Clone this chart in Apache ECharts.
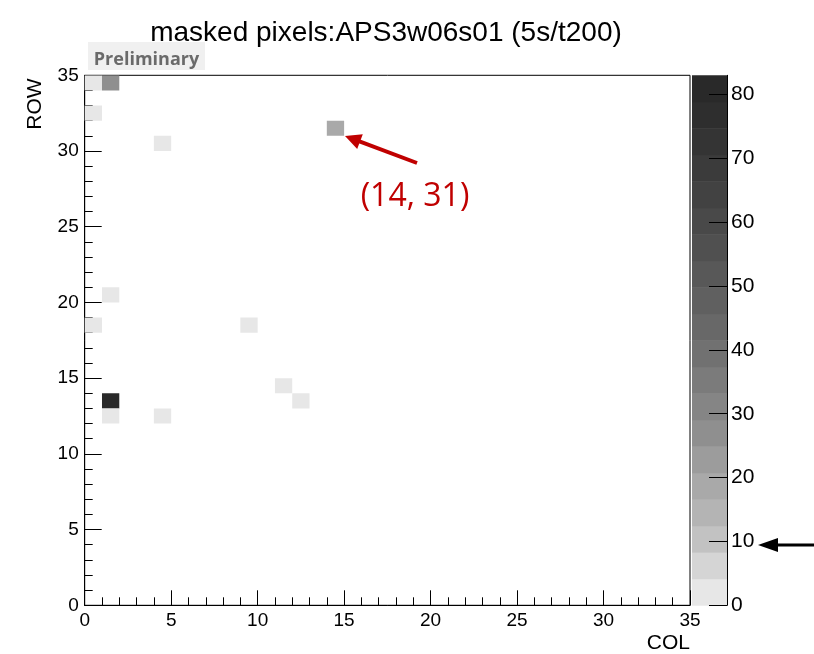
<!DOCTYPE html>
<html>
<head>
<meta charset="utf-8">
<script src="https://cdn.jsdelivr.net/npm/echarts@6/dist/echarts.min.js"></script>
<style>html,body{margin:0;padding:0;background:#fff}#c{width:814px;height:654px}</style>
</head>
<body>
<div id="c"></div>
<script>
// masked pixel cells: [COL, ROW, counts]
const cellCols   = [0, 1, 0, 4, 14, 1, 0, 9, 11, 12, 1, 1, 4];
const cellRows   = [34, 34, 32, 30, 31, 20, 18, 18, 14, 13, 13, 12, 12];
const cellCounts = [2, 27, 2, 2, 17, 2, 2, 2, 2, 2, 83, 2, 2];

const axisTicks = [0, 5, 10, 15, 20, 25, 30, 35];
const colorbarTicks = [0, 10, 20, 30, 40, 50, 60, 70, 80];
const colorbarMax = 83;
const levelColors = ['#e7e7e7','#d5d5d5','#c2c2c2','#b4b4b4','#a9a9a9','#9c9c9c','#8f8f8f','#858585',
  '#7b7b7b','#717171','#686868','#606060','#585858','#505050','#494949','#424242','#3b3b3b','#343434','#2e2e2e','#292929'];

const nLevels = levelColors.length;
const step = colorbarMax / nLevels;
function colorFor(v){ return levelColors[Math.max(0, Math.min(nLevels-1, Math.floor(v/step)))]; }

const cellData = cellCols.map((c,i)=>[c, cellRows[i], cellCounts[i]]);
const levelData = levelColors.map((c,i)=>[i]);

const chart = echarts.init(document.getElementById('c'), null, {renderer:'canvas'});
const FONT = 'Liberation Sans';

function arrow(x1,y1,x2,y2,color,w,hl,hw){
  const dx=x2-x1, dy=y2-y1, L=Math.hypot(dx,dy), ux=dx/L, uy=dy/L;
  const bx=x2-hl*ux, by=y2-hl*uy, nx=-uy, ny=ux;
  return [
    {type:'line', shape:{x1:x1,y1:y1,x2:bx+ux*2,y2:by+uy*2}, style:{stroke:color,lineWidth:w}, z:100},
    {type:'polygon', shape:{points:[[x2,y2],[bx+hw*nx,by+hw*ny],[bx-hw*nx,by-hw*ny]]}, style:{fill:color}, z:100}
  ];
}

const option = {
  animation:false,
  backgroundColor:'#fff',
  textStyle:{fontFamily:FONT},
  grid:[
    {left:84.7, right:124, top:75.3, bottom:48.7, show:true, borderColor:'#000', borderWidth:1, backgroundColor:'#fff', containLabel:false},
    {left:692, width:35, top:75.3, bottom:48.7, show:false, containLabel:false}
  ],
  xAxis:[
    {gridIndex:0, type:'value', min:0, max:35, interval:5,
      axisLine:{show:true, onZero:false, lineStyle:{color:'#000', width:1}},
      axisTick:{show:true, inside:true, length:15, lineStyle:{color:'#000'}},
      minorTick:{show:true, splitNumber:5, length:8, lineStyle:{color:'#000'}},
      axisLabel:{color:'#000', fontSize:19, fontFamily:FONT, margin:6},
      splitLine:{show:false}},
    {gridIndex:1, type:'value', min:0, max:1, show:false}
  ],
  yAxis:[
    {gridIndex:0, type:'value', min:0, max:35, interval:5,
      axisLine:{show:true, onZero:false, lineStyle:{color:'#000', width:1}},
      axisTick:{show:true, inside:true, length:17, lineStyle:{color:'#000'}},
      minorTick:{show:true, splitNumber:5, length:8, lineStyle:{color:'#000'}},
      axisLabel:{color:'#000', fontSize:19, fontFamily:FONT, margin:6},
      splitLine:{show:false}},
    {gridIndex:1, type:'value', min:0, max:colorbarMax, position:'right', z:10,
      axisLine:{show:true, onZero:false, lineStyle:{color:'#000', width:1}},
      axisTick:{show:true, inside:true, length:18, customValues:colorbarTicks, lineStyle:{color:'#000'}},
      axisLabel:{color:'#000', fontSize:21, fontFamily:FONT, margin:4, customValues:colorbarTicks},
      splitLine:{show:false}}
  ],
  series:[
    {type:'custom', xAxisIndex:0, yAxisIndex:0, clip:true, encode:{x:0,y:1}, data:cellData, z:2,
      renderItem:function(params, api){
        const x=api.value(0), y=api.value(1), v=api.value(2);
        const p0=api.coord([x,y]), p1=api.coord([x+1,y+1]);
        return {type:'rect', shape:{x:p0[0], y:p1[1], width:p1[0]-p0[0], height:p0[1]-p1[1]}, style:{fill:colorFor(v)}};
      }},
    {type:'custom', xAxisIndex:1, yAxisIndex:1, encode:{y:0}, data:levelData, z:1,
      renderItem:function(params, api){
        const i=api.value(0);
        const p0=api.coord([0,i*step]), p1=api.coord([1,(i+1)*step]);
        return {type:'rect', shape:{x:p0[0], y:p1[1], width:p1[0]-p0[0], height:p0[1]-p1[1]+0.5}, style:{fill:levelColors[i]}};
      }}
  ],
  graphic:[
    {type:'text', x:386, y:33, style:{text:'masked pixels:APS3w06s01 (5s/t200)', font:'28px "Liberation Sans"', fill:'#000', align:'center', verticalAlign:'middle'}, z:100},
    {type:'rect', shape:{x:88, y:42, width:117, height:28}, style:{fill:'#f0f0f0'}, z:99},
    {type:'text', x:146.5, y:60, style:{text:'Preliminary', font:'bold 18px "Open Sans"', fill:'#6a6a6a', align:'center', verticalAlign:'middle'}, z:100},
    {type:'text', x:35, y:104, rotation:Math.PI/2, style:{text:'ROW', font:'21px "Liberation Sans"', fill:'#000', align:'center', verticalAlign:'middle'}, z:100},
    {type:'text', x:690, y:643, style:{text:'COL', font:'21px "Liberation Sans"', fill:'#000', align:'right', verticalAlign:'middle'}, z:100},
    {type:'text', x:415, y:197, style:{text:'(14, 31)', font:'32px "Open Sans"', fill:'#c00000', align:'center', verticalAlign:'middle'}, z:100}
  ].concat(arrow(417,163,345,136,'#c00000',4,16,8))
   .concat(arrow(814,545,758,545,'#000',3,20,7))
};
chart.setOption(option);
</script>
</body>
</html>
